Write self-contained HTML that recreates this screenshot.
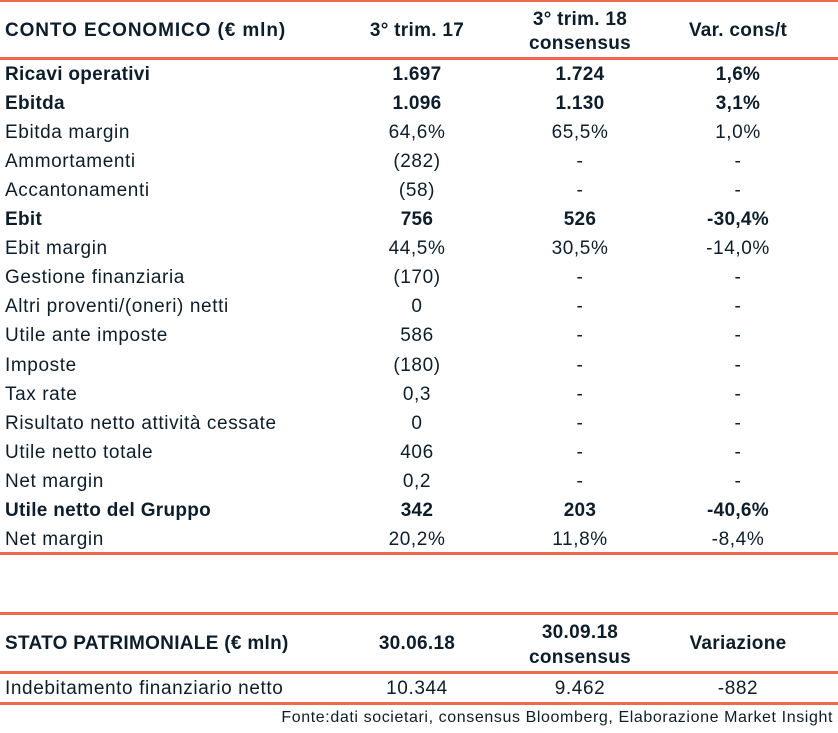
<!DOCTYPE html>
<html><head><meta charset="utf-8"><style>
body{margin:0;width:838px;height:733px;background:#fff;position:relative;font-family:"Liberation Sans",sans-serif;color:#0d1e2a;overflow:hidden}
.t{position:absolute;white-space:nowrap;font-size:19px;line-height:20px;letter-spacing:0.6px}
.c{transform:translateX(-50%);text-align:center}
.b{font-weight:bold;letter-spacing:0.3px}
.ln{position:absolute;left:0;width:838px;background:#f0674f}
</style></head><body>
<div class="ln" style="top:0;height:2px"></div>
<div class="ln" style="top:57px;height:3px"></div>
<div class="ln" style="top:552px;height:3px"></div>
<div class="ln" style="top:612px;height:3px"></div>
<div class="ln" style="top:671px;height:3px"></div>
<div class="ln" style="top:702px;height:3px"></div>

<div class="t b" style="left:5px;top:21px;letter-spacing:0.9px">CONTO ECONOMICO (€ mln)</div>
<div class="t b c" style="left:417px;top:21px">3° trim. 17</div>
<div class="t b c" style="left:580px;top:8px;line-height:24px">3° trim. 18<br>consensus</div>
<div class="t b c" style="left:738px;top:21px">Var. cons/t</div>

<div id="rows"></div>

<div class="t b" style="left:5px;top:634px">STATO PATRIMONIALE (€ mln)</div>
<div class="t b c" style="left:417px;top:634px">30.06.18</div>
<div class="t b c" style="left:580px;top:620px;line-height:25px">30.09.18<br>consensus</div>
<div class="t b c" style="left:738px;top:634px">Variazione</div>
<div class="t" style="left:5px;top:679px">Indebitamento finanziario netto</div>
<div class="t c" style="left:417px;top:679px">10.344</div>
<div class="t c" style="left:580px;top:679px">9.462</div>
<div class="t c" style="left:738px;top:679px">-882</div>
<div class="t" style="right:5px;top:708px;font-size:16px;letter-spacing:0.6px">Fonte:dati societari, consensus Bloomberg, Elaborazione Market Insight</div>

<script>
const labels=["Ricavi operativi","Ebitda","Ebitda margin","Ammortamenti","Accantonamenti","Ebit","Ebit margin","Gestione finanziaria","Altri proventi/(oneri) netti","Utile ante imposte","Imposte","Tax rate","Risultato netto attività cessate","Utile netto totale","Net margin","Utile netto del Gruppo","Net margin"];
const q317=["1.697","1.096","64,6%","(282)","(58)","756","44,5%","(170)","0","586","(180)","0,3","0","406","0,2","342","20,2%"];
const q318=["1.724","1.130","65,5%","-","-","526","30,5%","-","-","-","-","-","-","-","-","203","11,8%"];
const vars=["1,6%","3,1%","1,0%","-","-","-30,4%","-14,0%","-","-","-","-","-","-","-","-","-40,6%","-8,4%"];
const bold=[1,1,0,0,0,1,0,0,0,0,0,0,0,0,0,1,0];
const host=document.getElementById('rows');
labels.forEach((l,i)=>{
  const y=64.5+i*29.1;
  const cells=[[l,5,false],[q317[i],417,true],[q318[i],580,true],[vars[i],738,true]];
  cells.forEach((c,j)=>{
    const d=document.createElement('div');
    d.className='t'+(c[2]?' c':'')+(bold[i]?' b':'');
    d.style.left=c[1]+'px';d.style.top=y+'px';
    d.textContent=c[0];
    
    
    host.appendChild(d);
  });
});
</script>
</body></html>
